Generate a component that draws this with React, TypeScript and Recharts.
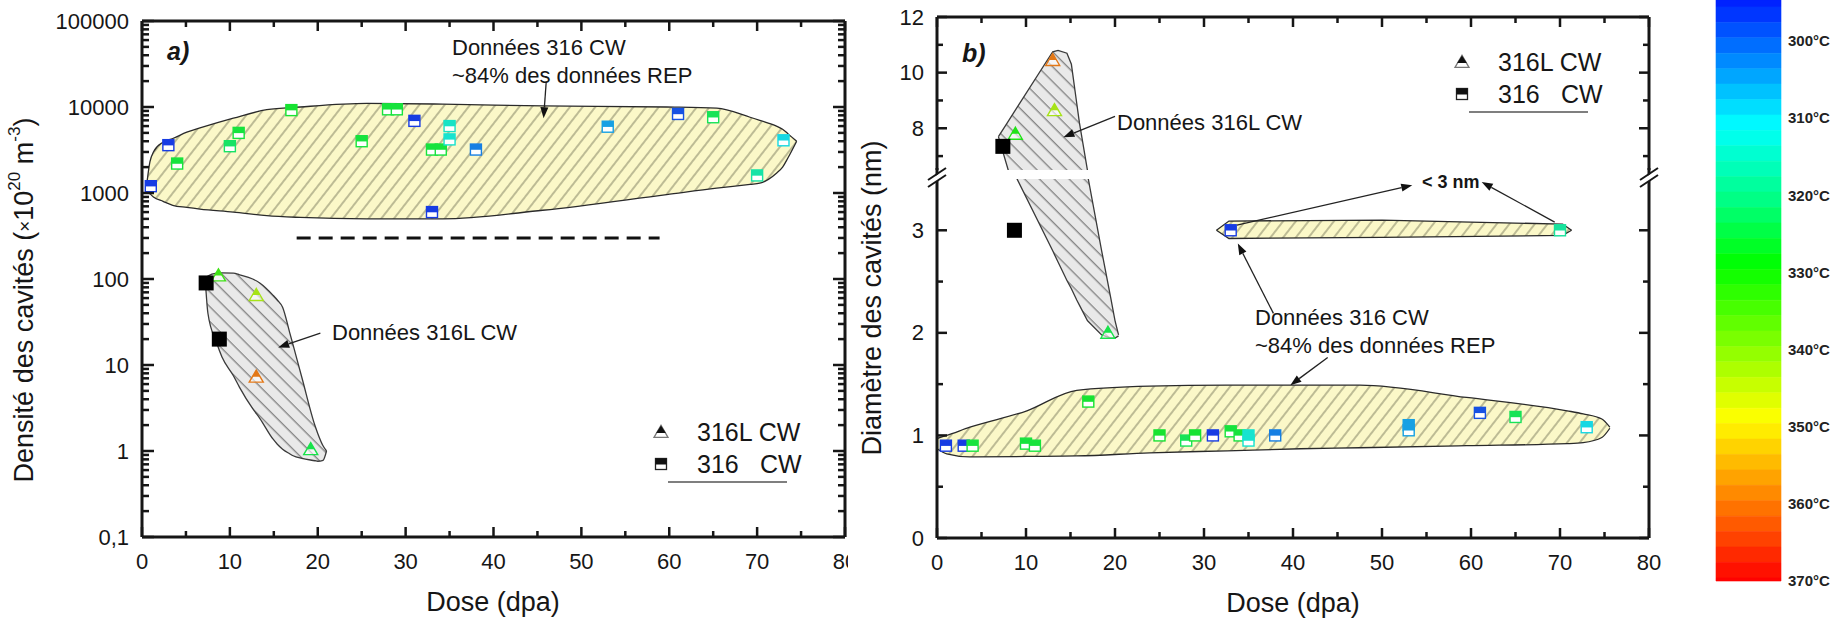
import React from 'react';
import { ComposedChart, XAxis, YAxis, Area, Scatter, ReferenceLine, ReferenceArea } from 'recharts';

const FONT = '"Liberation Sans", Arial, Helvetica, sans-serif';
const INK = '#161616';

// ---------------- axes / tick values ----------------
const doseTicks = [0, 5, 10, 15, 20, 25, 30, 35, 40, 45, 50, 55, 60, 65, 70, 75, 80];
const densityDecades = [0.1, 1, 10, 100, 1000, 10000, 100000];
const densityDecadeLabels = ['0,1', '1', '10', '100', '1000', '10000', '100000'];
const densityMinorSteps = [2, 3, 4, 5, 6, 7, 8, 9];
const diameterTicksUpper = [7, 8, 9, 10, 11, 12];
const diameterLabelsUpper = [8, 10, 12];
const diameterTicksLower = [0, 0.5, 1, 1.5, 2, 2.5, 3];
const diameterLabelsLower = [0, 1, 2, 3];
const colorbarTicks = [300, 310, 320, 330, 340, 350, 360, 370];

// ---------------- panel a : cavity density ----------------
const a316CW = [
  { x: 1, y: 1200, t: 296 },
  { x: 3, y: 3600, t: 296 },
  { x: 4, y: 2200, t: 326 },
  { x: 10, y: 3500, t: 323 },
  { x: 11, y: 5000, t: 326 },
  { x: 17, y: 9200, t: 327 },
  { x: 25, y: 4000, t: 326 },
  { x: 28, y: 9400, t: 326 },
  { x: 29, y: 9400, t: 326 },
  { x: 31, y: 6900, t: 296 },
  { x: 33, y: 3200, t: 326 },
  { x: 34, y: 3200, t: 326 },
  { x: 33, y: 600, t: 296 },
  { x: 35, y: 6000, t: 314 },
  { x: 35, y: 4200, t: 313 },
  { x: 38, y: 3200, t: 302 },
  { x: 53, y: 5900, t: 305 },
  { x: 61, y: 8300, t: 298 },
  { x: 65, y: 7600, t: 324 },
  { x: 70, y: 1600, t: 317 },
  { x: 73, y: 4100, t: 310 },
];
const a316LCW = [
  { x: 8.7, y: 110, t: 333 },
  { x: 13, y: 65, t: 343 },
  { x: 13, y: 7.3, t: 360 },
  { x: 19.2, y: 1.05, t: 325 },
];
const aBlack = [
  { x: 7.3, y: 90 },
  { x: 8.8, y: 20 },
];
// envelope of 316 CW data: r = [lower, upper]
const aEnvelope316 = [
  { x: 0.45, r: [1050, 1050] },
  { x: 0.9, r: [980, 2300] },
  { x: 1.3, r: [900, 3000] },
  { x: 2.4, r: [800, 3900] },
  { x: 3.5, r: [720, 4300] },
  { x: 5.1, r: [680, 5100] },
  { x: 6.6, r: [650, 5700] },
  { x: 10.4, r: [600, 7400] },
  { x: 14.2, r: [545, 9300] },
  { x: 18, r: [520, 10000] },
  { x: 25.6, r: [500, 11000] },
  { x: 34.2, r: [500, 10800] },
  { x: 45.6, r: [630, 10300] },
  { x: 59.7, r: [960, 10000] },
  { x: 65.4, r: [1140, 9700] },
  { x: 69.2, r: [1260, 7600] },
  { x: 70.3, r: [1300, 7000] },
  { x: 72.2, r: [1700, 6000] },
  { x: 72.9, r: [2000, 5500] },
  { x: 73.5, r: [2550, 4900] },
  { x: 74.5, r: [4000, 4000] },
];
const aEnvelope316L = [
  { x: 7.2, r: [98, 98] },
  { x: 7.5, r: [40, 108] },
  { x: 8.5, r: [18, 117] },
  { x: 9.1, r: [12.4, 118] },
  { x: 10.4, r: [7.5, 117] },
  { x: 11.1, r: [5.5, 112] },
  { x: 12.6, r: [3.1, 100] },
  { x: 13.4, r: [2.4, 90] },
  { x: 14.9, r: [1.38, 65] },
  { x: 15.4, r: [1.2, 57] },
  { x: 16.0, r: [1.05, 47] },
  { x: 16.8, r: [0.93, 24] },
  { x: 17.2, r: [0.88, 17] },
  { x: 18.2, r: [0.82, 7.1] },
  { x: 19.7, r: [0.77, 1.95] },
  { x: 20.0, r: [0.76, 1.6] },
  { x: 20.6, r: [0.78, 1.15] },
  { x: 21.0, r: [1.0, 1.0] },
];
const aArrows = [
  { from: { x: 46.0, y: 19700 }, to: { x: 45.7, y: 7400 } },
  { from: { x: 20.3, y: 23.5 }, to: { x: 15.5, y: 16 } },
];
const aDashed = [{ x: 17.6, y: 300 }, { x: 58.9, y: 300 }];

// ---------------- panel b : cavity diameter ----------------
const b316CW = [
  { x: 1, y: 0.9, t: 296 },
  { x: 3, y: 0.9, t: 296 },
  { x: 4, y: 0.9, t: 326 },
  { x: 10, y: 0.92, t: 326 },
  { x: 11, y: 0.9, t: 326 },
  { x: 17, y: 1.33, t: 327 },
  { x: 25, y: 1.0, t: 327 },
  { x: 28, y: 0.95, t: 324 },
  { x: 29, y: 1.0, t: 327 },
  { x: 31, y: 1.0, t: 296 },
  { x: 33, y: 1.04, t: 326 },
  { x: 34, y: 1.0, t: 326 },
  { x: 35, y: 1.0, t: 313 },
  { x: 35, y: 0.95, t: 313 },
  { x: 38, y: 1.0, t: 302 },
  { x: 53, y: 1.1, t: 305 },
  { x: 53, y: 1.05, t: 305 },
  { x: 61, y: 1.22, t: 298 },
  { x: 65, y: 1.18, t: 324 },
  { x: 73, y: 1.08, t: 310 },
  { x: 33, y: 3.0, t: 296 },
  { x: 70, y: 3.0, t: 318 },
];
const b316LCW = [
  { x: 8.8, y: 7.8, t: 330 },
  { x: 13.2, y: 8.65, t: 343 },
  { x: 13.0, y: 10.45, t: 360 },
  { x: 19.2, y: 2.0, t: 325 },
];
const bBlack = [
  { x: 7.4, y: 7.35 },
  { x: 8.7, y: 3.0 },
];
const bEnvelope316 = [
  { x: 0, r: [0.87, 0.97] },
  { x: 1.1, r: [0.82, 1.0] },
  { x: 3.7, r: [0.79, 1.08] },
  { x: 10.1, r: [0.795, 1.24] },
  { x: 15.7, r: [0.8, 1.44] },
  { x: 23.9, r: [0.83, 1.48] },
  { x: 32.6, r: [0.85, 1.49] },
  { x: 40.8, r: [0.87, 1.49] },
  { x: 47.5, r: [0.88, 1.49] },
  { x: 59.5, r: [0.9, 1.37] },
  { x: 70.8, r: [0.92, 1.24] },
  { x: 72.6, r: [0.93, 1.21] },
  { x: 74.7, r: [0.98, 1.16] },
  { x: 75.6, r: [1.07, 1.08] },
];
const bEnvelopeSmall = [
  { x: 31.4, r: [3.0, 3.0] },
  { x: 32.8, r: [2.92, 3.09] },
  { x: 50, r: [2.93, 3.1] },
  { x: 70.3, r: [2.95, 3.06] },
  { x: 71.3, r: [3.0, 3.0] },
];
const bEnvelope316L = [
  { x: 6.9, r: [7.7, 7.7] },
  { x: 8.0, r: [6.5, 8.25] },
  { x: 9.0, r: [3.5, 8.75] },
  { x: 13.0, r: [2.8, 10.75] },
  { x: 13.6, r: [2.69, 10.8] },
  { x: 14.6, r: [2.51, 10.7] },
  { x: 15.1, r: [2.43, 10.3] },
  { x: 15.7, r: [2.32, 8.9] },
  { x: 16.0, r: [2.27, 8.2] },
  { x: 16.9, r: [2.12, 6.5] },
  { x: 17.0, r: [2.11, 3.5] },
  { x: 18.5, r: [1.98, 2.8] },
  { x: 19.5, r: [1.95, 2.35] },
  { x: 20.0, r: [1.95, 2.12] },
  { x: 20.4, r: [1.97, 1.98] },
];
const bUpperArrows = [{ from: { x: 20.0, y: 8.43 }, to: { x: 14.2, y: 7.68 } }];
const bLowerArrows = [
  { from: { x: 37.8, y: 2.19 }, to: { x: 33.8, y: 2.87 } },
  { from: { x: 43.9, y: 1.76 }, to: { x: 39.7, y: 1.49 } },
  { from: { x: 33.7, y: 3.05 }, to: { x: 53.4, y: 3.44 } },
  { from: { x: 69.4, y: 3.08 }, to: { x: 61.2, y: 3.47 } },
];

// ---------------- colour map (temperature -> colour) ----------------
const cmapTemps = [295, 311, 321, 329, 349, 370];
const cmapRGB = [
  [0, 32, 255],
  [0, 255, 255],
  [0, 255, 128],
  [0, 255, 0],
  [255, 255, 0],
  [255, 0, 0],
];
function jetRGB(t: number): number[] {
  if (t <= cmapTemps[0]) return cmapRGB[0];
  for (let i = 1; i < cmapTemps.length; i++) {
    if (t <= cmapTemps[i]) {
      const f = (t - cmapTemps[i - 1]) / (cmapTemps[i] - cmapTemps[i - 1]);
      return cmapRGB[i].map((v, k) => Math.round(cmapRGB[i - 1][k] + (v - cmapRGB[i - 1][k]) * f));
    }
  }
  return cmapRGB[cmapRGB.length - 1];
}
const rgb = (c: number[]) => `rgb(${c[0]},${c[1]},${c[2]})`;
const jetColor = (t: number) => rgb(jetRGB(t));
const markerColor = (t: number) => rgb(jetRGB(t).map((v) => Math.round(v * 0.8 + 115 * 0.2)));

const cbEdges: number[] = [294.7];
for (let e = 295.6; e < 370; e += 2) cbEdges.push(+e.toFixed(2));
cbEdges.push(370);
const cbBands = cbEdges.slice(0, -1).map((lo, i) => ({ lo, hi: cbEdges[i + 1], c: jetColor((lo + cbEdges[i + 1]) / 2) }));

// ---------------- helpers ----------------
const densityTicks = densityDecades.flatMap((d, i) =>
  i < densityDecades.length - 1 ? [d, ...densityMinorSteps.map((m) => d * m)] : [d]
);
const isDecade = (v: number) => Math.abs(Math.log10(v) - Math.round(Math.log10(v))) < 1e-6;
const densityLabel = (v: number) => {
  const i = densityDecades.findIndex((d) => Math.abs(d - v) / d < 1e-6);
  return i >= 0 ? densityDecadeLabels[i] : '';
};
const axisLineStyle = { stroke: INK, strokeWidth: 3 };

function xTick(side: 'top' | 'bottom', withLabels: boolean) {
  return (p: any) => {
    const { x, y, payload } = p;
    const v = payload.value;
    const major = Math.abs(v % 10) < 1e-9;
    const len = major ? 10 : 6;
    const dir = side === 'bottom' ? -1 : 1;
    return (
      <g>
        <line x1={x} x2={x} y1={y} y2={y + dir * len} stroke={INK} strokeWidth={2.5} />
        {withLabels && major ? (
          <text x={x} y={y + 24} textAnchor="middle" dominantBaseline="central" fontSize={22} fontFamily={FONT} fill={INK}>
            {v}
          </text>
        ) : null}
      </g>
    );
  };
}

function yTick(side: 'left' | 'right', isMajor: (v: number) => boolean, label: ((v: number) => string) | null, majorLen: number, minorLen: number) {
  return (p: any) => {
    const { x, y, payload } = p;
    const v = payload.value;
    const major = isMajor(v);
    const len = major ? majorLen : minorLen;
    const dir = side === 'left' ? 1 : -1;
    return (
      <g>
        <line x1={x} x2={x + dir * len} y1={y} y2={y} stroke={INK} strokeWidth={2.5} />
        {label && major ? (
          <text x={x - 13} y={y} textAnchor="end" dominantBaseline="central" fontSize={22} fontFamily={FONT} fill={INK}>
            {label(v)}
          </text>
        ) : null}
      </g>
    );
  };
}

const arrowShape = (p: any) => {
  const x1 = +p.x1, y1 = +p.y1, x2 = +p.x2, y2 = +p.y2;
  const ang = Math.atan2(y2 - y1, x2 - x1);
  const L = 11, W = 4;
  const bx = x2 - L * Math.cos(ang), by = y2 - L * Math.sin(ang);
  const px = -Math.sin(ang) * W, py = Math.cos(ang) * W;
  return (
    <g>
      <line x1={x1} y1={y1} x2={bx} y2={by} stroke="#222" strokeWidth={1.3} />
      <polygon points={`${x2},${y2} ${bx + px},${by + py} ${bx - px},${by - py}`} fill="#111" />
    </g>
  );
};

const getT = (p: any) => (p.payload && p.payload.t != null ? p.payload.t : p.t);

const cwSquare = (p: any) => {
  const { cx, cy } = p;
  if (cx == null || cy == null) return <g />;
  const c = markerColor(getT(p));
  const s = 11;
  return (
    <g>
      <rect x={cx - s / 2} y={cy - s / 2} width={s} height={s} fill="#fff" stroke={c} strokeWidth={1.4} />
      <rect x={cx - s / 2} y={cy - s / 2} width={s} height={s * 0.52} fill={c} />
    </g>
  );
};

const lTriangle = (p: any) => {
  const { cx, cy } = p;
  if (cx == null || cy == null) return <g />;
  const c = markerColor(getT(p));
  const w = 14, h = 12;
  const top = cy - h * 0.55, bot = cy + h * 0.45;
  const mid = top + h * 0.55;
  const hw = (w / 2) * 0.55;
  return (
    <g>
      <polygon points={`${cx},${top} ${cx - w / 2},${bot} ${cx + w / 2},${bot}`} fill="#fff" fillOpacity={0.6} stroke={c} strokeWidth={1.4} />
      <polygon points={`${cx},${top} ${cx - hw},${mid} ${cx + hw},${mid}`} fill={c} />
    </g>
  );
};

const blackSquare = (p: any) => {
  const { cx, cy } = p;
  if (cx == null || cy == null) return <g />;
  return <rect x={cx - 7.5} y={cy - 7.5} width={15} height={15} fill="#000" />;
};

// ---------------- panel a ----------------
function PanelA() {
  return (
    <div style={{ width: 848, height: 619, overflow: 'hidden' }}>
      <ComposedChart width={848} height={619} margin={{ top: 0, right: 0, bottom: 0, left: 0 }}>
        <XAxis xAxisId="b" orientation="bottom" type="number" dataKey="x" domain={[0, 80]} ticks={doseTicks} interval={0}
          allowDataOverflow height={82} tickSize={0} tickMargin={0} tickLine={false} axisLine={axisLineStyle} tick={xTick('bottom', true)} />
        <XAxis xAxisId="t" orientation="top" type="number" dataKey="x" domain={[0, 80]} ticks={doseTicks} interval={0}
          allowDataOverflow height={21} tickSize={0} tickMargin={0} tickLine={false} axisLine={axisLineStyle} tick={xTick('top', false)} />
        <YAxis yAxisId="l" orientation="left" type="number" dataKey="y" scale="log" domain={[0.1, 100000]} ticks={densityTicks}
          interval={0} allowDataOverflow width={142} tickSize={0} tickMargin={0} tickLine={false} axisLine={axisLineStyle}
          tick={yTick('left', isDecade, densityLabel, 12, 7)} />
        <YAxis yAxisId="r" orientation="right" type="number" dataKey="y" scale="log" domain={[0.1, 100000]} ticks={densityTicks}
          interval={0} allowDataOverflow width={3} tickSize={0} tickMargin={0} tickLine={false} axisLine={axisLineStyle}
          tick={yTick('right', isDecade, null, 12, 7)} />
        <Area xAxisId="b" yAxisId="l" data={aEnvelope316} dataKey="r" type="monotone" stroke="#2a2a2a" strokeWidth={1.3}
          fill="url(#hatchY)" fillOpacity={1} dot={false} activeDot={false} isAnimationActive={false} />
        <Area xAxisId="b" yAxisId="l" data={aEnvelope316L} dataKey="r" type="monotone" stroke="#3a3a3a" strokeWidth={1.3}
          fill="url(#hatchG)" fillOpacity={1} dot={false} activeDot={false} isAnimationActive={false} />
        <ReferenceLine xAxisId="b" yAxisId="l" segment={aDashed} ifOverflow="visible" stroke="#111" strokeWidth={3} strokeDasharray="14 8" />
        {aArrows.map((a, i) => (
          <ReferenceLine key={'aa' + i} xAxisId="b" yAxisId="l" segment={[a.from, a.to]} ifOverflow="visible" shape={arrowShape} />
        ))}
        <Scatter xAxisId="b" yAxisId="l" data={a316CW} shape={cwSquare} isAnimationActive={false} />
        <Scatter xAxisId="b" yAxisId="l" data={a316LCW} shape={lTriangle} isAnimationActive={false} />
        <Scatter xAxisId="t" yAxisId="r" data={aBlack} shape={blackSquare} isAnimationActive={false} />
      </ComposedChart>
    </div>
  );
}

// ---------------- panel b (broken axis: two stacked charts) ----------------
function bSeries(xId: string) {
  return [
    <Area key="e1" xAxisId={xId} yAxisId="l" data={bEnvelope316} dataKey="r" type="monotone" stroke="#2a2a2a" strokeWidth={1.3}
      fill="url(#hatchY)" fillOpacity={1} dot={false} activeDot={false} isAnimationActive={false} />,
    <Area key="e2" xAxisId={xId} yAxisId="l" data={bEnvelopeSmall} dataKey="r" type="linear" stroke="#2a2a2a" strokeWidth={1.3}
      fill="url(#hatchY)" fillOpacity={1} dot={false} activeDot={false} isAnimationActive={false} />,
    <Area key="e3" xAxisId={xId} yAxisId="l" data={bEnvelope316L} dataKey="r" type="linear" stroke="#3a3a3a" strokeWidth={1.3}
      fill="url(#hatchG)" fillOpacity={1} dot={false} activeDot={false} isAnimationActive={false} />,
    <Scatter key="s1" xAxisId={xId} yAxisId="l" data={b316CW} shape={cwSquare} isAnimationActive={false} />,
    <Scatter key="s2" xAxisId={xId} yAxisId="l" data={b316LCW} shape={lTriangle} isAnimationActive={false} />,
    <Scatter key="s3" xAxisId={xId} yAxisId="r" data={bBlack} shape={blackSquare} isAnimationActive={false} />,
  ];
}

function PanelBUpper() {
  const major = (v: number) => diameterLabelsUpper.includes(v);
  return (
    <ComposedChart width={820} height={170} margin={{ top: 0, right: 0, bottom: 0, left: 0 }}>
      <XAxis xAxisId="t" orientation="top" type="number" dataKey="x" domain={[0, 80]} ticks={doseTicks} interval={0}
        allowDataOverflow height={17} tickSize={0} tickMargin={0} tickLine={false} axisLine={axisLineStyle} tick={xTick('top', false)} />
      <YAxis yAxisId="l" orientation="left" type="number" dataKey="y" domain={[6.5, 12]} ticks={diameterTicksUpper} interval={0}
        allowDataOverflow width={77} tickSize={0} tickMargin={0} tickLine={false} axisLine={axisLineStyle}
        tick={yTick('left', major, (v) => String(v), 10, 6)} />
      <YAxis yAxisId="r" orientation="right" type="number" dataKey="y" domain={[6.5, 12]} ticks={diameterTicksUpper} interval={0}
        allowDataOverflow width={31} tickSize={0} tickMargin={0} tickLine={false} axisLine={axisLineStyle}
        tick={yTick('right', major, null, 10, 6)} />
      {bSeries('t')}
      {bUpperArrows.map((a, i) => (
        <ReferenceLine key={'bu' + i} xAxisId="t" yAxisId="l" segment={[a.from, a.to]} ifOverflow="visible" shape={arrowShape} />
      ))}
    </ComposedChart>
  );
}

function PanelBLower() {
  const major = (v: number) => diameterLabelsLower.includes(v);
  return (
    <ComposedChart width={820} height={449} margin={{ top: 9, right: 0, bottom: 0, left: 0 }}>
      <XAxis xAxisId="b" orientation="bottom" type="number" dataKey="x" domain={[0, 80]} ticks={doseTicks} interval={0}
        allowDataOverflow height={81} tickSize={0} tickMargin={0} tickLine={false} axisLine={axisLineStyle} tick={xTick('bottom', true)} />
      <YAxis yAxisId="l" orientation="left" type="number" dataKey="y" domain={[0, 3.5]} ticks={diameterTicksLower} interval={0}
        allowDataOverflow width={77} tickSize={0} tickMargin={0} tickLine={false} axisLine={axisLineStyle}
        tick={yTick('left', major, (v) => String(v), 10, 6)} />
      <YAxis yAxisId="r" orientation="right" type="number" dataKey="y" domain={[0, 3.5]} ticks={diameterTicksLower} interval={0}
        allowDataOverflow width={31} tickSize={0} tickMargin={0} tickLine={false} axisLine={axisLineStyle}
        tick={yTick('right', major, null, 10, 6)} />
      {bSeries('b')}
      {bLowerArrows.map((a, i) => (
        <ReferenceLine key={'bl' + i} xAxisId="b" yAxisId="l" segment={[a.from, a.to]} ifOverflow="visible" shape={arrowShape} />
      ))}
    </ComposedChart>
  );
}

// ---------------- colour bar ----------------
function ColorBar() {
  return (
    <ComposedChart width={141} height={619} margin={{ top: 0, right: 0, bottom: 38, left: 16 }}>
      <XAxis xAxisId="c" type="number" dataKey="x" domain={[0, 1]} hide allowDataOverflow />
      <YAxis yAxisId="c" type="number" dataKey="y" orientation="right" domain={[294.7, 370]} reversed allowDataOverflow
        ticks={colorbarTicks} interval={0} width={60} tickSize={0} tickMargin={7} axisLine={false} tickLine={false}
        tick={{ fontSize: 15, fontWeight: 'bold', fill: '#222', fontFamily: FONT }} tickFormatter={(v: number) => `${v}°C`} />
      {cbBands.map((b, i) => (
        <ReferenceArea key={'cb' + i} xAxisId="c" yAxisId="c" x1={0} x2={1} y1={b.lo} y2={b.hi} fill={b.c} fillOpacity={1}
          stroke={b.c} strokeWidth={0.6} ifOverflow="visible" />
      ))}
      <Scatter xAxisId="c" yAxisId="c" data={colorbarTicks.map((t) => ({ x: 0.5, y: t }))} shape={() => <g />} isAnimationActive={false} />
    </ComposedChart>
  );
}

// ---------------- overlay: titles, annotations, legends ----------------
function Txt(props: any) {
  const { x, y, size = 22, children, ...rest } = props;
  return (
    <text x={x} y={y} fontSize={size} fontFamily={FONT} fill={INK} dominantBaseline="central" {...rest}>
      {children}
    </text>
  );
}

function LegendBlock({ x, y }: { x: number; y: number }) {
  // x, y: centre of the triangle symbol
  const w = 14, h = 12;
  const top = y - h * 0.55, bot = y + h * 0.45, mid = top + h * 0.55, hw = (w / 2) * 0.55;
  const sy = y + 32;
  return (
    <g>
      <polygon points={`${x},${top} ${x - w / 2},${bot} ${x + w / 2},${bot}`} fill="#fff" stroke="#777" strokeWidth={1.3} />
      <polygon points={`${x},${top} ${x - hw - 1},${mid + 1} ${x + hw + 1},${mid + 1}`} fill="#111" />
      <rect x={x - 5.5} y={sy - 5.5} width={11} height={11} fill="#fff" stroke="#222" strokeWidth={1.3} />
      <rect x={x - 5.5} y={sy - 5.5} width={11} height={6} fill="#111" />
      <Txt x={x + 36} y={y} size={25}>316L CW</Txt>
      <Txt x={x + 36} y={sy} size={25}>316</Txt>
      <Txt x={x + 99} y={sy} size={25}>CW</Txt>
      <line x1={x + 7} x2={x + 126} y1={sy + 18} y2={sy + 18} stroke="#555" strokeWidth={1.5} />
    </g>
  );
}

function Overlay() {
  return (
    <svg width={1841} height={619} style={{ position: 'absolute', left: 0, top: 0, pointerEvents: 'none' }}>
      <defs>
        <pattern id="hatchY" patternUnits="userSpaceOnUse" width={10} height={10} patternTransform="rotate(38)">
          <rect width={10} height={10} fill="#fbf8c8" />
          <line x1={5} y1={0} x2={5} y2={10} stroke="#8a8a6a" strokeWidth={1.1} />
        </pattern>
        <pattern id="hatchG" patternUnits="userSpaceOnUse" width={10.5} height={10.5} patternTransform="rotate(-45)">
          <rect width={10.5} height={10.5} fill="#e9e9e9" />
          <line x1={5} y1={0} x2={5} y2={10.5} stroke="#6f6f6f" strokeWidth={1.1} />
        </pattern>
      </defs>

      {/* panel labels */}
      <Txt x={167} y={51} size={25} fontWeight="bold" fontStyle="italic">a)</Txt>
      <Txt x={962} y={53} size={25} fontWeight="bold" fontStyle="italic">b)</Txt>

      {/* axis titles */}
      <Txt x={493} y={602} size={27} textAnchor="middle">Dose (dpa)</Txt>
      <Txt x={1293} y={603} size={27} textAnchor="middle">Dose (dpa)</Txt>
      <text transform="rotate(-90)" x={-300} y={24} fontSize={27} fontFamily={FONT} fill={INK} textAnchor="middle" dominantBaseline="central">
        Densité des cavités (<tspan fontSize={19}>×</tspan>10<tspan dy={-10} fontSize={17}>20</tspan>
        <tspan dy={10}> m</tspan><tspan dy={-10} fontSize={17}>-3</tspan><tspan dy={10}>)</tspan>
      </text>
      <text transform="rotate(-90)" x={-298} y={872} fontSize={27} fontFamily={FONT} fill={INK} textAnchor="middle" dominantBaseline="central">
        Diamètre des cavités (nm)
      </text>

      {/* annotations panel a */}
      <Txt x={452} y={47}>Données 316 CW</Txt>
      <Txt x={452} y={75}>~84% des données REP</Txt>
      <Txt x={332} y={332}>Données 316L CW</Txt>

      {/* annotations panel b */}
      <Txt x={1117} y={122}>Données 316L CW</Txt>
      <Txt x={1255} y={317}>Données 316 CW</Txt>
      <Txt x={1255} y={345}>~84% des données REP</Txt>
      <Txt x={1422} y={182} size={18} fontWeight="bold">&lt; 3 nm</Txt>

      {/* legends */}
      <LegendBlock x={661} y={432} />
      <LegendBlock x={1462} y={62} />

      {/* axis break marks (panel b) */}
      <line x1={937} x2={937} y1={168} y2={181} stroke={INK} strokeWidth={3} />
      <line x1={1649} x2={1649} y1={168} y2={181} stroke={INK} strokeWidth={3} />
      <polygon points="928,181 946,169 946,175 928,187" fill="#fff" />
      <line x1={928} y1={180} x2={946} y2={168} stroke={INK} strokeWidth={2} />
      <line x1={928} y1={187} x2={946} y2={175} stroke={INK} strokeWidth={2} />
      <polygon points="1640,181 1658,169 1658,175 1640,187" fill="#fff" />
      <line x1={1640} y1={180} x2={1658} y2={168} stroke={INK} strokeWidth={2} />
      <line x1={1640} y1={187} x2={1658} y2={175} stroke={INK} strokeWidth={2} />
    </svg>
  );
}

export default function App() {
  return (
    <div style={{ position: 'absolute', left: 0, top: 0, width: 1841, height: 619, background: '#fff', overflow: 'hidden' }}>
      <div style={{ position: 'absolute', left: 0, top: 0 }}>
        <PanelA />
      </div>
      <div style={{ position: 'absolute', left: 860, top: 0 }}>
        <PanelBUpper />
      </div>
      <div style={{ position: 'absolute', left: 860, top: 170 }}>
        <PanelBLower />
      </div>
      <div style={{ position: 'absolute', left: 1700, top: 0 }}>
        <ColorBar />
      </div>
      <Overlay />
    </div>
  );
}
